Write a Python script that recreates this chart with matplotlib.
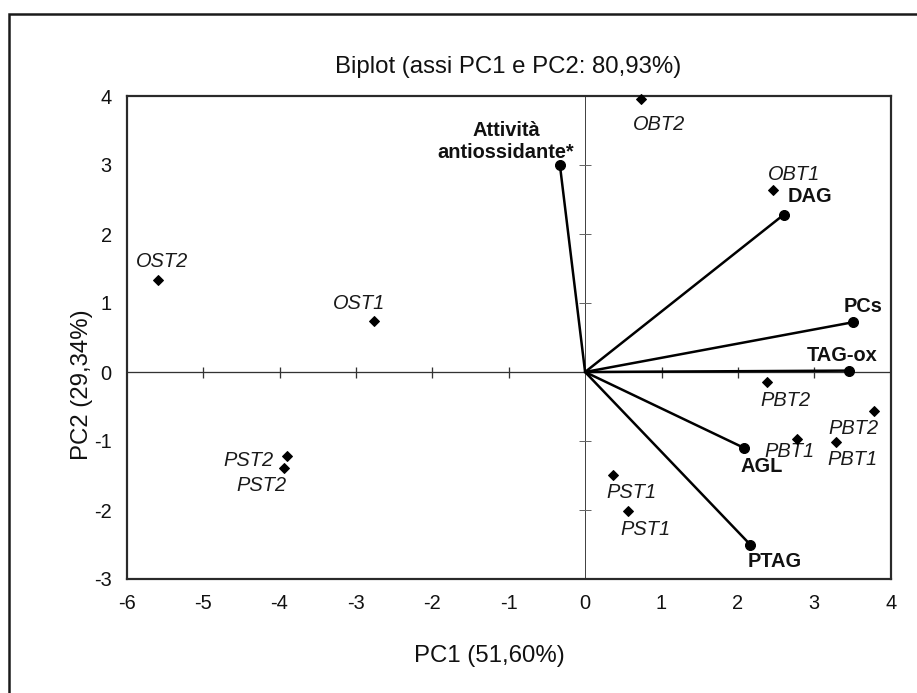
import matplotlib
matplotlib.use("Agg")
import matplotlib.pyplot as plt
from matplotlib import font_manager
from matplotlib.patches import Rectangle

# --- data ---
sample_names = ["OST2", "OST1", "PST2", "PST2", "OBT2", "OBT1",
                "PBT2", "PBT2", "PBT1", "PBT1", "PST1", "PST1"]
sample_pc1 = [-5.59, -2.76, -3.90, -3.94, 0.73, 2.46,
              2.38, 3.78, 2.78, 3.28, 0.37, 0.56]
sample_pc2 = [1.34, 0.74, -1.22, -1.39, 3.95, 2.64,
              -0.14, -0.56, -0.97, -1.01, -1.49, -2.01]

var_names = ["Attività\nantiossidante*", "DAG", "PCs", "TAG-ox", "AGL", "PTAG"]
var_pc1 = [-0.33, 2.60, 3.50, 3.45, 2.08, 2.16]
var_pc2 = [3.00, 2.28, 0.72, 0.02, -1.10, -2.50]

x_ticks = [-6, -5, -4, -3, -2, -1, 0, 1, 2, 3, 4]
y_ticks = [-3, -2, -1, 0, 1, 2, 3, 4]

title = "Biplot (assi PC1 e PC2: 80,93%)"
xlabel = "PC1 (51,60%)"
ylabel = "PC2 (29,34%)"

# label offsets in points (layout only)
sample_offsets = [(4, 18), (-15, 17), (-14, -4), (-23, -18), (18, -25), (21, 15),
                  (19, -19), (-20, -18), (-8, -13), (17, -18), (18, -18), (18, -19)]
sample_ha = ["center", "center", "right", "center", "center", "center",
             "center", "center", "center", "center", "center", "center"]
var_offsets = [(-54, 24), (26, 18), (11, 16), (-7, 15), (18, -19), (25, -17)]

W, H = 917, 693
DPI = 72

names = {f.name for f in font_manager.fontManager.ttflist}
if "Liberation Sans Narrow" in names:
    big_font, big_size = "Liberation Sans Narrow", 28
else:
    big_font, big_size = "Liberation Sans", 24

plt.rcParams["font.family"] = ["Liberation Sans", "DejaVu Sans"]

fig = plt.figure(figsize=(W / DPI, H / DPI), dpi=DPI)
ax = fig.add_axes([126.7 / W, (H - 579) / H, 764 / W, 483 / H])

# outer frame round the whole picture
fig.patches.append(Rectangle((9 / W, -0.1), 1.2, 1.1 - 14 / H, transform=fig.transFigure,
                             fill=False, edgecolor="#1a1a1a", linewidth=2.5, clip_on=False))

ax.set_xlim(-6, 4)
ax.set_ylim(-3, 4)
ax.set_xticks(x_ticks)
ax.set_yticks(y_ticks)
ax.set_xticklabels([str(t) for t in x_ticks])
ax.set_yticklabels([str(t) for t in y_ticks])
ax.tick_params(length=0, labelsize=20, colors="#111111")
ax.tick_params(axis="x", pad=15)
ax.tick_params(axis="y", pad=15)
for sp in ax.spines.values():
    sp.set_linewidth(2.2)
    sp.set_color("#2a2a2a")

# zero lines with small crossing ticks
ax.axhline(0, color="#333333", lw=1.3, zorder=1)
ax.axvline(0, color="#444444", lw=1.0, zorder=1)
xt = [t for t in x_ticks if t not in (0, x_ticks[0], x_ticks[-1])]
yt = [t for t in y_ticks if t not in (0, y_ticks[0], y_ticks[-1])]
ax.plot(xt, [0] * len(xt), ls="none", marker="|", ms=11, mew=1.3, color="#333333", zorder=1)
ax.plot([0] * len(yt), yt, ls="none", marker="_", ms=12, mew=1.0, color="#666666", zorder=1)

# variable vectors
for x, y in zip(var_pc1, var_pc2):
    ax.plot([0, x], [0, y], color="black", lw=2.5, solid_capstyle="round", zorder=3)
ax.plot(var_pc1, var_pc2, ls="none", marker="o", ms=10, color="black", zorder=4, clip_on=False)
for name, x, y, off in zip(var_names, var_pc1, var_pc2, var_offsets):
    ax.annotate(name, (x, y), xytext=off, textcoords="offset points",
                ha="center", va="center", fontsize=20, fontweight="bold",
                linespacing=1.2, color="#111111", annotation_clip=False)

# sample scores
ax.plot(sample_pc1, sample_pc2, ls="none", marker="D", ms=7, color="black", zorder=4, clip_on=False)
for name, x, y, off, ha in zip(sample_names, sample_pc1, sample_pc2, sample_offsets, sample_ha):
    ax.annotate(name, (x, y), xytext=off, textcoords="offset points",
                ha=ha, va="center", fontsize=20, fontstyle="italic",
                color="#1a1a1a", annotation_clip=False)

fig.text(508 / W, 1 - 73 / H, title, ha="center", va="baseline",
         family=big_font, fontsize=big_size, color="#111111")
fig.text(489 / W, 1 - 661.7 / H, xlabel, ha="center", va="baseline",
         family=big_font, fontsize=big_size, color="#111111")
fig.text(88 / W, 1 - 385 / H, ylabel, ha="center", va="baseline", rotation=90,
         rotation_mode="anchor", family=big_font, fontsize=big_size, color="#111111")

fig.savefig("out.png", dpi=DPI, facecolor="white")
